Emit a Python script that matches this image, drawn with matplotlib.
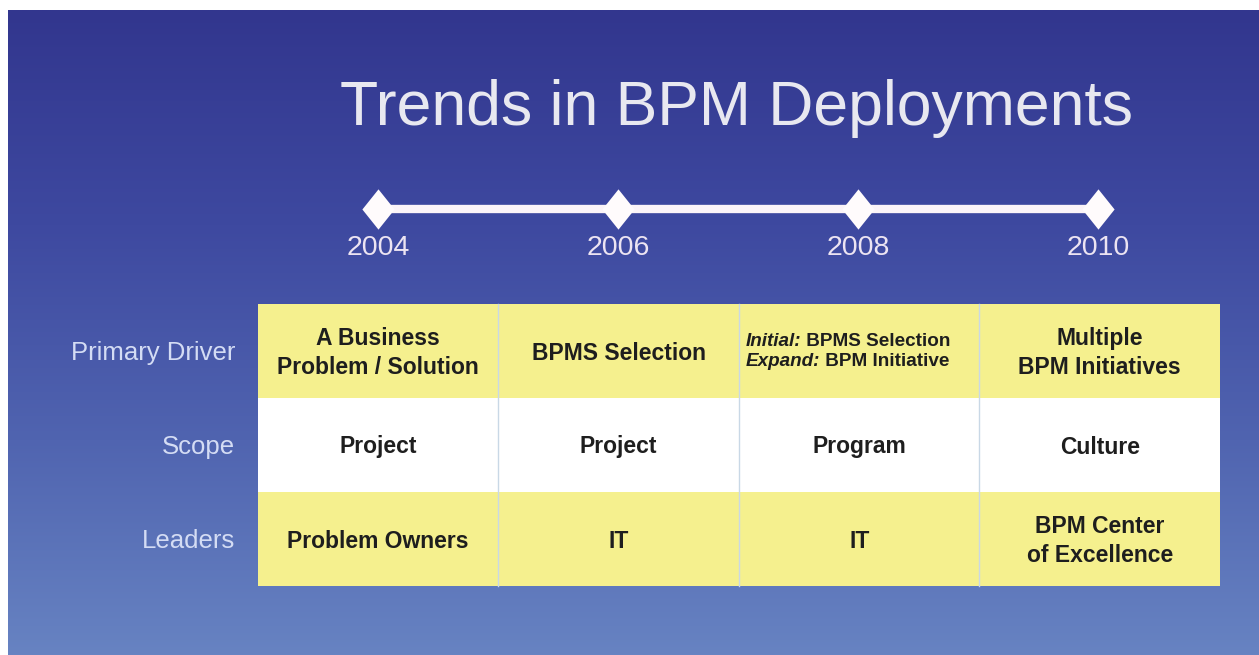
import numpy as np
import matplotlib
matplotlib.use("Agg")
from matplotlib import pyplot as plt
from matplotlib.colors import LinearSegmentedColormap
from matplotlib.patches import Rectangle

title = "Trends in BPM Deployments"
years = [2004, 2006, 2008, 2010]
row_labels = ["Primary Driver", "Scope", "Leaders"]
primary_driver = ["A Business\nProblem / Solution", "BPMS Selection", None, "Multiple\nBPM Initiatives"]
driver_2008 = [("Initial:", " BPMS Selection"), ("Expand:", " BPM Initiative")]
scope = ["Project", "Project", "Program", "Culture"]
leaders = ["Problem Owners", "IT", "IT", "BPM Center\nof Excellence"]
row_colors = ["#F5F08E", "#FFFFFF", "#F5F08E"]

plt.rcParams['font.family'] = ['Liberation Sans', 'DejaVu Sans']

W, H = 1259, 655
fig = plt.figure(figsize=(W / 100, H / 100), dpi=100)
ax = fig.add_axes([0, 0, 1, 1])
ax.set_xlim(0, W)
ax.set_ylim(H, 0)
ax.axis('off')

# blue gradient background (white margin at top / left)
grad = LinearSegmentedColormap.from_list("bg", ["#32368E", "#3E49A0", "#5064B0", "#6783C2"])
ax.imshow(np.linspace(0, 1, 256).reshape(-1, 1), cmap=grad, aspect='auto',
          extent=[8, W, H, 10], zorder=0)

# title
ax.text(737, 108, title, ha='center', va='center', fontsize=45, color='#E8E8F0', zorder=3)

# timeline
x0, dx = 378, 240
xs = [x0 + dx * i for i in range(len(years))]
diamond = [(0, 1), (0.8, 0), (0, -1), (-0.8, 0), (0, 1)]
ax.plot([xs[0], xs[-1]], [209, 209], color='#FBF4F8', lw=6, solid_capstyle='butt', zorder=2)
ax.plot(xs, [209] * len(xs), ls='none', marker=diamond, markersize=29,
        color='#FFFBFC', markeredgewidth=0, zorder=3)
for x, yr in zip(xs, years):
    ax.text(x, 248, str(yr), ha='center', va='center', fontsize=20.5, color='#ECE4F2', zorder=3)

# table
tx0, ty0, cw, rh = 258, 304, 240.5, 94
rows = [primary_driver, scope, leaders]
for r, (lab, vals) in enumerate(zip(row_labels, rows)):
    yc = ty0 + rh * r + rh / 2 + 2
    ax.add_patch(Rectangle((tx0, ty0 + rh * r), cw * 4, rh, facecolor=row_colors[r],
                           edgecolor='none', zorder=1))
    ax.text(235, yc, lab, ha='right', va='center', fontsize=18.5, color='#D4DCF4', zorder=3)
    for c, v in enumerate(vals):
        if v is None:
            continue
        ax.text(tx0 + cw * c + cw / 2, yc, v, ha='center', va='center', fontsize=16.5,
                fontweight='bold', color='#1E1E1E', linespacing=1.35, zorder=3)

# 2008 primary driver with italic lead words
for i, (lead, rest) in enumerate(driver_2008):
    t1 = ax.text(746, 341 + 21 * i, lead, ha='left', va='center', fontsize=13.6,
                 fontweight='bold', fontstyle='italic', color='#1E1E1E', zorder=3)
    ax.annotate(rest, xy=(1, 0), xycoords=t1, ha='left', va='bottom', fontsize=13.6,
                fontweight='bold', color='#1E1E1E', zorder=3)

# thin column separators
for c in range(1, 4):
    ax.plot([tx0 + cw * c] * 2, [ty0, ty0 + rh * 3], color='#C9D8E6', lw=1, zorder=2)

fig.savefig("out.png", dpi=100)
